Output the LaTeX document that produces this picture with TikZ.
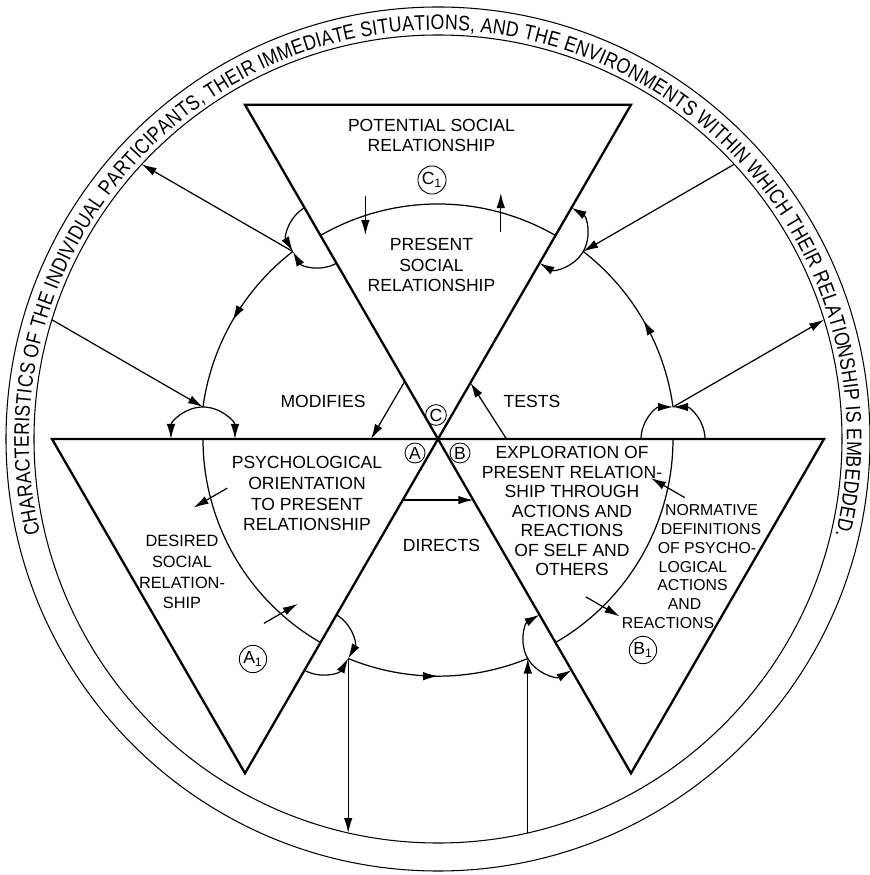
\documentclass[tikz,border=0pt]{standalone}
\usepackage{fontspec}
\setmainfont{Liberation Sans}
\newfontfamily\ringfamily[FakeStretch=0.84]{Liberation Sans}
\usepackage{tikz}
\usetikzlibrary{arrows.meta,calc,decorations.markings,decorations.text}
\newcommand{\ringfont}{\ringfamily\fontsize{12}{12}\selectfont}
\tikzset{
  rel-tri/.style={draw=black, line width=1.3pt, line join=miter},
  rel-line/.style={draw=black, line width=0.7pt},
  rel-ring/.style={draw=black, line width=0.6pt},
  rel-mid/.style={postaction={decorate},
    decoration={markings, mark=at position 0.5 with {\arrow{Latex[length=3mm,width=1.7mm]}}}},
  rel-text/.style={align=center, inner sep=0pt, font=\fontsize{10}{11.9}\selectfont},
  rel-small/.style={align=center, inner sep=0pt, font=\fontsize{9.3}{11.9}\selectfont},
  rel-tag/.style={draw, circle, line width=0.5pt, inner sep=0.6pt, minimum size=0.4cm,
    font=\fontsize{10}{10}\selectfont}
}

\begin{document}
\begin{tikzpicture}[>={Latex[length=3mm,width=1.7mm]}]
  \useasboundingbox (-8.76,-8.72) rectangle (8.62,8.78);
  \coordinate (O) at (0,0);

  % outer ring and its caption
  \draw[rel-ring] (O) circle[radius=8.64];
  \draw[rel-ring] (O) circle[radius=8.08];
  \path[decorate, decoration={text along path, text align={fit to path},
    text={|\ringfont|CHARACTERISTICS OF THE INDIVIDUAL PARTICIPANTS, THEIR IMMEDIATE SITUATIONS, AND THE ENVIRONMENTS WITHIN WHICH THEIR RELATIONSHIP IS EMBEDDED.}}]
    (193.4:8.18) arc[start angle=193.4, end angle=-13.6, radius=8.18];

  % three triangles meeting at O
  \draw[rel-tri] (O) -- (60:7.72) -- (120:7.72) -- cycle;
  \draw[rel-tri] (O) -- (180:7.72) -- (240:7.72) -- cycle;
  \draw[rel-tri] (O) -- (300:7.72) -- (360:7.72) -- cycle;

  % arcs inside the triangles, with the crossing arrows
  \foreach \s in {60,180,300} {
    \draw[rel-line] (\s:4.7) arc[start angle=\s, end angle=\s+60, radius=4.7];
    \draw[rel-line, ->] ($(\s+14.5:4.7)+(\s+210:0.39)$) -- ++(\s+30:0.78);
    \draw[rel-line, ->] ($(\s+48:4.7)+(\s+30:0.39)$) -- ++(\s+210:0.78);
  }

  % hubs where the flow leaves a triangle
  \foreach \j in {0,120,240} {
    \coordinate (hub-\j) at ($(\j:4.7)+(\j+90:0.64)$);
    \coordinate (ring-\j) at ($(hub-\j)+(\j+30:3.49)$);
    \draw[rel-line, ->] ($(\j:4.7)+(\j:0.64)$) arc[start angle=\j, end angle=\j+90, radius=0.64];
    \draw[rel-line, ->] ($(\j:4.7)+(\j+180:0.64)$) arc[start angle=\j+180, end angle=\j+90, radius=0.64];
    \draw[rel-line, ->] (hub-\j) -- (ring-\j);
    \draw[rel-line, rel-mid] (hub-\j) arc[start angle=\j+7.75, end angle=\j+52.25, radius=4.743];
  }

  % hubs where the flow enters a triangle
  \foreach \j in {60,180,300} {
    \coordinate (hub-\j) at ($(\j:4.7)+(\j-90:0.64)$);
    \coordinate (ring-\j) at ($(hub-\j)+(\j-30:3.49)$);
    \draw[rel-line, ->] (hub-\j) arc[start angle=\j-90, end angle=\j, radius=0.64];
    \draw[rel-line, ->] (hub-\j) arc[start angle=\j-90, end angle=\j-180, radius=0.64];
    \draw[rel-line, ->] (ring-\j) -- (hub-\j);
  }

  % links near the centre
  \coordinate (mod-a) at (120:1.33);
  \coordinate (mod-b) at (180:1.34);
  \coordinate (test-a) at (0:1.37);
  \coordinate (test-b) at (60:1.3);
  \coordinate (dir-a) at (240:1.41);
  \coordinate (dir-b) at (300:1.41);
  \draw[rel-line, ->] (mod-a) -- (mod-b);
  \draw[rel-line, ->] (test-a) -- (test-b);
  \draw[rel-line, ->] (dir-a) -- (dir-b);

  % labels
  \node[rel-text] (potential) at (-0.13,6.07) {POTENTIAL SOCIAL\\RELATIONSHIP};
  \node[rel-tag] (c1) at (-0.12,5.18) {C\textsubscript{1}};
  \node[rel-text] (present) at (-0.13,3.48) {PRESENT\\SOCIAL\\RELATIONSHIP};
  \node[rel-text] (modifies) at (-2.3,0.75) {MODIFIES};
  \node[rel-text] (tests) at (1.88,0.75) {TESTS};
  \node[rel-text] (directs) at (0.07,-2.12) {DIRECTS};
  \node[rel-tag] (c) at (-0.04,0.48) {C};
  \node[rel-tag] (a) at (-0.46,-0.28) {A};
  \node[rel-tag] (b) at (0.44,-0.28) {B};
  \node[rel-text] (orient) at (-2.62,-1.09) {PSYCHOLOGICAL\\ORIENTATION\\TO PRESENT\\RELATIONSHIP};
  \node[rel-small] (desired) at (-5.12,-2.66) {DESIRED\\SOCIAL\\RELATION-\\SHIP};
  \node[rel-tag] (a1) at (-3.7,-4.4) {A\textsubscript{1}};
  \node[rel-text, font=\fontsize{10}{11.1}\selectfont] (explore) at (2.68,-1.44)
    {EXPLORATION OF\\PRESENT RELATION-\\SHIP THROUGH\\ACTIONS AND\\REACTIONS\\OF SELF AND\\OTHERS};
  \foreach \txt/\x/\y [count=\i] in {NORMATIVE/5.47/-1.43, DEFINITIONS/5.46/-1.81,
      OF PSYCHO-/5.38/-2.18, LOGICAL/5.1/-2.56, ACTIONS/5.09/-2.93, AND/4.93/-3.31,
      REACTIONS/4.6/-3.68}
    \node[rel-small, font=\fontsize{9}{10}\selectfont] (norm-\i) at (\x,\y) {\txt};
  \node[rel-tag] (b1) at (4.1,-4.22) {B\textsubscript{1}};
\end{tikzpicture}
\end{document}
